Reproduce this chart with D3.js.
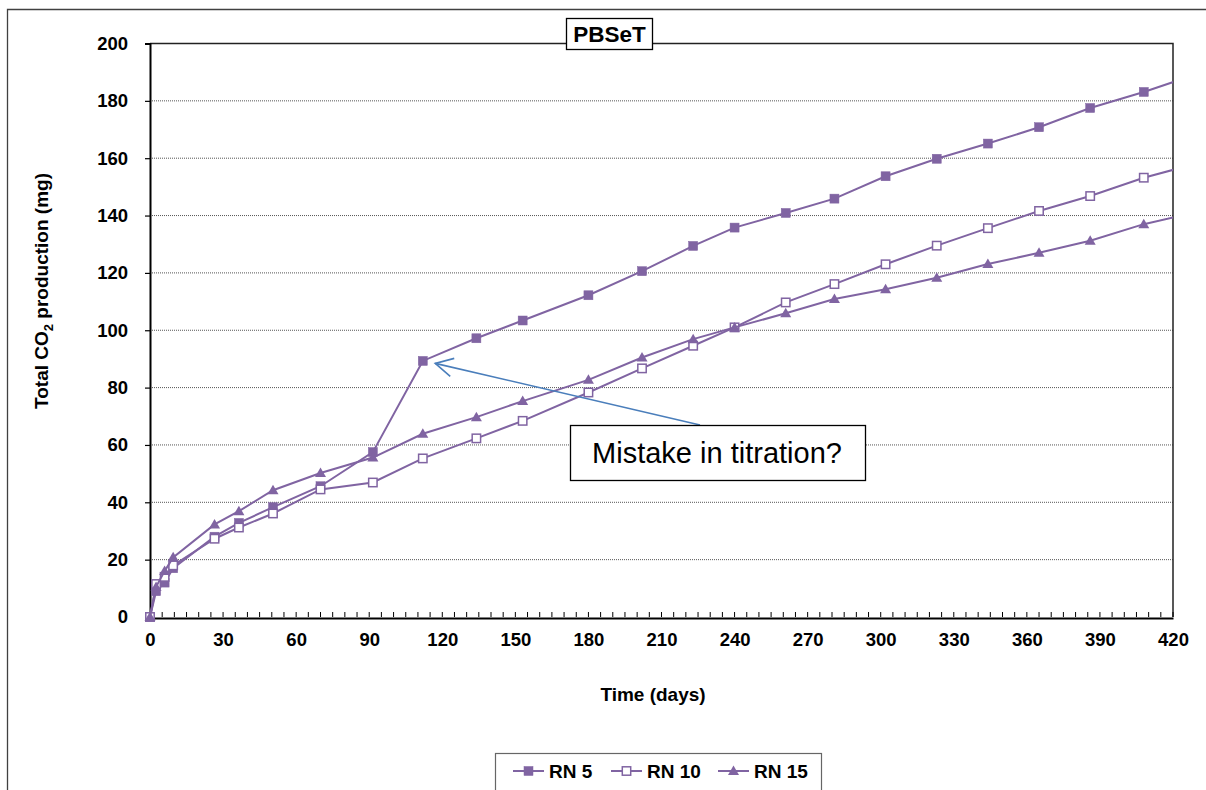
<!DOCTYPE html>
<html>
<head>
<meta charset="utf-8">
<script src="https://cdn.jsdelivr.net/npm/d3@7"></script>
<style>
  html, body { margin: 0; padding: 0; background: #fff; }
  svg { display: block; }
  text { font-family: "Liberation Sans", Arial, sans-serif; }
</style>
</head>
<body>
<svg id="chart" width="1206" height="790"></svg>
<script>
// ---- data ----
const days = [0, 2.5, 6, 9.5, 26.5, 36.5, 50.5, 70, 91.5, 112, 134, 153, 180, 202, 223, 240, 261, 281, 302, 323, 344, 365, 386, 408, 430];
const rn5  = [0, 9, 12, 17, 28, 32.8, 38.3, 45.6, 57.5, 89.3, 97.2, 103.4, 112.2, 120.6, 129.4, 135.8, 140.9, 145.9, 153.7, 159.8, 165.1, 170.8, 177.5, 183.1, 189.4];
const rn10 = [0, 11.5, 14, 18, 27.3, 31.2, 36.1, 44.5, 46.9, 55.3, 62.3, 68.4, 78.3, 86.7, 94.6, 101, 109.7, 116.1, 123, 129.5, 135.6, 141.6, 146.8, 153.2, 158.2];
const rn15 = [0, 10.5, 16, 20.8, 32.3, 36.9, 44.2, 50.2, 55.6, 63.9, 69.7, 75.3, 82.7, 90.5, 96.9, 101, 105.9, 110.9, 114.3, 118.3, 123.1, 127, 131.2, 137, 141.2];
const seriesNames = ["RN 5", "RN 10", "RN 15"];
const yTicks = [0, 20, 40, 60, 80, 100, 120, 140, 160, 180, 200];
const xTicks = [0, 30, 60, 90, 120, 150, 180, 210, 240, 270, 300, 330, 360, 390, 420];
const titleText = "PBSeT";
const noteText = "Mistake in titration?";
const noteTarget = [113, 89.5];

// ---- layout ----
const svg = d3.select("#chart");
const L = 150, R = 1173, T = 43.5, B = 617;
const x = d3.scaleLinear().domain([0, 420]).range([L, R]);
const y = d3.scaleLinear().domain([0, 200]).range([B, T]);
const purple = "#8064a2";
const FONT = "Liberation Sans, Arial, sans-serif";

// outer frame (partial)
svg.append("path").attr("d", "M7.5,790 V9.5 H1206")
  .attr("fill", "none").attr("stroke", "#404040").attr("stroke-width", 1.3);

// gridlines
svg.append("g").selectAll("line").data(yTicks.filter(v => v > 0 && v < 200)).join("line")
  .attr("x1", L).attr("x2", R).attr("y1", d => y(d)).attr("y2", d => y(d))
  .attr("stroke", "#555").attr("stroke-width", 1).attr("stroke-dasharray", "1,1");

// plot frame top/right
svg.append("path").attr("d", `M${L},${y(200)} H${R} V${B}`)
  .attr("fill", "none").attr("stroke", "#222").attr("stroke-width", 1.5);

// y axis
const yAxis = d3.axisLeft(y).tickValues(yTicks).tickSize(5).tickPadding(17).tickFormat(d3.format("d"));
const gy = svg.append("g").attr("transform", `translate(${L},0)`).call(yAxis);
gy.select(".domain").attr("stroke", "#000").attr("stroke-width", 2);
gy.selectAll(".tick line").attr("stroke", "#000").attr("stroke-width", 1.2);
gy.selectAll(".tick text").attr("font-size", 18.5).attr("font-weight", "bold").attr("fill", "#000")
  .attr("font-family", FONT);

// x axis: minor ticks every 5 days pointing up (inside)
const minor = d3.range(0, 421, 5);
svg.append("g").selectAll("line").data(minor).join("line")
  .attr("x1", d => x(d)).attr("x2", d => x(d)).attr("y1", B).attr("y2", B - 5)
  .attr("stroke", "#000").attr("stroke-width", 1);
const xAxis = d3.axisBottom(x).tickValues(xTicks).tickSize(0).tickPadding(15).tickFormat(d3.format("d"));
const gx = svg.append("g").attr("transform", `translate(0,${B + 1})`).call(xAxis);
gx.select(".domain").attr("stroke", "#000").attr("stroke-width", 2);
gx.selectAll(".tick text").attr("font-size", 18.5).attr("font-weight", "bold").attr("fill", "#000")
  .attr("font-family", FONT);

// axis titles
svg.append("text").attr("x", 653).attr("y", 701).attr("text-anchor", "middle")
  .attr("font-size", 19).attr("font-weight", "bold").text("Time (days)");
const yl = svg.append("text").attr("transform", "translate(48,291) rotate(-90)")
  .attr("text-anchor", "middle").attr("font-size", 19).attr("font-weight", "bold");
yl.append("tspan").text("Total CO");
yl.append("tspan").attr("font-size", 13).attr("dy", 5).text("2");
yl.append("tspan").attr("dy", -5).text(" production (mg)");

// clip
svg.append("clipPath").attr("id", "plotclip").append("rect")
  .attr("x", L - 12).attr("y", T - 12).attr("width", R - L + 12).attr("height", B - T + 24);

const line = d3.line().x(d => x(d[0])).y(d => y(d[1]));
const allSeries = [rn5, rn10, rn15];
const markerKinds = ["fsq", "osq", "tri"];

function drawMarker(g, kind, cx, cy) {
  if (kind === "fsq") {
    g.append("rect").attr("x", cx - 4.5).attr("y", cy - 4.5).attr("width", 9).attr("height", 9)
      .attr("fill", purple).attr("stroke", purple).attr("stroke-width", 0.5);
  } else if (kind === "osq") {
    g.append("rect").attr("x", cx - 4.2).attr("y", cy - 4.2).attr("width", 8.4).attr("height", 8.4)
      .attr("fill", "#fff").attr("stroke", purple).attr("stroke-width", 1.5);
  } else {
    g.append("path").attr("d", `M${cx},${cy - 5.5} L${cx + 5.5},${cy + 4} L${cx - 5.5},${cy + 4} Z`)
      .attr("fill", purple);
  }
}

const plot = svg.append("g").attr("clip-path", "url(#plotclip)");
allSeries.forEach((vals, i) => {
  const pts = days.map((d, j) => [d, vals[j]]);
  const g = plot.append("g");
  g.append("path").datum(pts).attr("d", line).attr("fill", "none")
    .attr("stroke", purple).attr("stroke-width", 2);
  pts.filter(p => p[0] <= 420).forEach(p => drawMarker(g, markerKinds[i], x(p[0]), y(p[1])));
});

// title box
svg.append("rect").attr("x", 566.5).attr("y", 18.5).attr("width", 86).attr("height", 31)
  .attr("fill", "#fff").attr("stroke", "#000").attr("stroke-width", 1.3);
svg.append("text").attr("x", 609.5).attr("y", 42).attr("text-anchor", "middle")
  .attr("font-size", 22.5).attr("font-weight", "bold").text(titleText);

// annotation arrow
const tipX = x(noteTarget[0]) + 10, tipY = y(noteTarget[1]) + 3;
const arrowBlue = "#4a7ebb";
svg.append("line").attr("x1", 700).attr("y1", 425).attr("x2", tipX).attr("y2", tipY)
  .attr("stroke", arrowBlue).attr("stroke-width", 1.6);
svg.append("path").attr("d", `M${tipX + 19},${tipY - 5} L${tipX},${tipY} L${tipX + 15},${tipY + 13}`)
  .attr("fill", "none").attr("stroke", arrowBlue).attr("stroke-width", 1.6);

// annotation box
svg.append("rect").attr("x", 570.5).attr("y", 425.5).attr("width", 295).attr("height", 55)
  .attr("fill", "#fff").attr("stroke", "#000").attr("stroke-width", 1.3);
svg.append("text").attr("x", 717).attr("y", 463).attr("text-anchor", "middle")
  .attr("font-size", 29).text(noteText);

// legend
svg.append("rect").attr("x", 495.5).attr("y", 753.5).attr("width", 326).attr("height", 60)
  .attr("fill", "#fff").attr("stroke", "#666").attr("stroke-width", 1.2);
const legX = [513, 611, 718];
seriesNames.forEach((name, i) => {
  const g = svg.append("g");
  g.append("line").attr("x1", legX[i]).attr("x2", legX[i] + 31).attr("y1", 771).attr("y2", 771)
    .attr("stroke", purple).attr("stroke-width", 2);
  drawMarker(g, markerKinds[i], legX[i] + 15.5, 771);
  g.append("text").attr("x", legX[i] + 36).attr("y", 778).attr("font-size", 19)
    .attr("font-weight", "bold").text(name);
});
</script>
</body>
</html>
